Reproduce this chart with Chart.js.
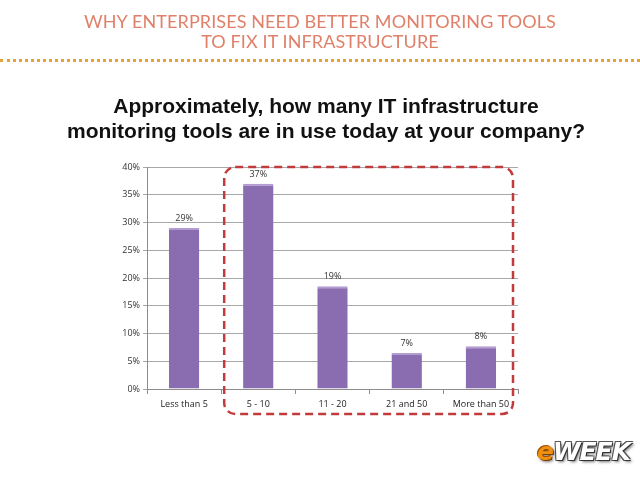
<!DOCTYPE html>
<html>
<head>
<meta charset="utf-8">
<script src="https://cdn.jsdelivr.net/npm/chart.js@4"></script>
<style>
    html, body { margin: 0; padding: 0; background: #fff; }
    #wrap { position: relative; width: 640px; height: 480px; overflow: hidden; font-family: "Open Sans", "DejaVu Sans", sans-serif; }
    #header {
        position: absolute; left: 0; top: 11px; width: 640px; text-align: center;
        font-family: Lato, "Open Sans", sans-serif; font-weight: 400; font-size: 18px; line-height: 20px;
        color: #e0806a; letter-spacing: 0.1px;
    }
    #dots { position: absolute; left: 0; top: 59px; width: 640px; border-top: 3px dotted #e8a038; }
    #title {
        position: absolute; left: 0; top: 93px; width: 652px; text-align: center;
        font-family: "Liberation Sans", Arial, sans-serif; font-weight: bold; font-size: 21px; line-height: 25px;
        color: #111;
    }
    #logo {
        position: absolute; left: 537px; top: 437px;
        font-family: "DejaVu Sans", sans-serif; font-weight: bold; font-style: italic; font-size: 25px;
        letter-spacing: -1px; color: #fff;
        text-shadow: 1px 1px 0 #333, -1px -1px 0 #555, 1px -1px 0 #555, -1px 1px 0 #555, 2px 2px 3px #777;
    }
    #logo span { color: #f09010; text-shadow: 1px 1px 0 #7a3e00, -1px -1px 0 #a05000, 2px 2px 3px #777; }
    canvas { position: absolute; left: 0; top: 0; }
</style>
</head>
<body>
<div id="wrap">
    <canvas id="toolsChart" width="640" height="480"></canvas>
    <div id="header">WHY ENTERPRISES NEED BETTER MONITORING TOOLS<br>TO FIX IT INFRASTRUCTURE</div>
    <div id="dots"></div>
    <div id="title">Approximately, how many IT infrastructure<br>monitoring tools are in use today at your company?</div>
    <div id="logo"><span>e</span>WEEK</div>
</div>
<script>
// Dados
const categories = ["Less than 5", "5 - 10", "11 - 20", "21 and 50", "More than 50"];
const shares = [29, 37, 18.5, 6.5, 7.7];
const yTicks = [0, 5, 10, 15, 20, 25, 30, 35, 40];

document.addEventListener("DOMContentLoaded", function() {
    const canvas = document.getElementById("toolsChart");
    const ctx = canvas.getContext("2d");

    // Gradiente das barras (efeito 3D)
    const barFill = function(context) {
        const chart = context.chart;
        const meta = chart.getDatasetMeta(0);
        const bar = meta.data[context.dataIndex];
        if (!bar || !bar.width) return '#8a6cb0';
        const g = chart.ctx.createLinearGradient(bar.x - bar.width / 2, 0, bar.x + bar.width / 2, 0);
        g.addColorStop(0, '#6e5490');
        g.addColorStop(0.12, '#8c6eb2');
        g.addColorStop(0.5, '#8b6cb0');
        g.addColorStop(0.88, '#8264a8');
        g.addColorStop(1, '#604882');
        return g;
    };

    // Rótulos de valor acima das barras
    const valueLabels = {
        id: 'valueLabels',
        afterDatasetsDraw(chart) {
            const c = chart.ctx;
            const meta = chart.getDatasetMeta(0);
            c.save();
            c.font = '9px "Open Sans", "DejaVu Sans", sans-serif';
            c.fillStyle = '#333';
            c.textAlign = 'center';
            c.textBaseline = 'bottom';
            meta.data.forEach(function(bar, i) {
                c.fillText(Math.round(shares[i]) + '%', bar.x, bar.y - 5);
            });
            c.restore();
        }
    };

    // Retângulo tracejado vermelho em volta das categorias 2-5
    const dashedBox = {
        id: 'dashedBox',
        afterDraw(chart) {
            const x = chart.scales.x, y = chart.scales.y;
            const step = x.getPixelForValue(1) - x.getPixelForValue(0);
            const left = x.getPixelForValue(0) + step / 2 + 3;
            const right = x.getPixelForValue(4) + step / 2 - 5;
            const top = y.getPixelForValue(40);
            const bottom = chart.chartArea.bottom + 25;
            const r = 11;
            const c = chart.ctx;
            c.save();
            c.strokeStyle = '#c23b3c';
            c.lineWidth = 2.5;
            c.setLineDash([8, 5]);
            c.beginPath();
            c.moveTo(left + r, top);
            c.lineTo(right - r, top);
            c.arcTo(right, top, right, top + r, r);
            c.lineTo(right, bottom - r);
            c.arcTo(right, bottom, right - r, bottom, r);
            c.lineTo(left + r, bottom);
            c.arcTo(left, bottom, left, bottom - r, r);
            c.lineTo(left, top + r);
            c.arcTo(left, top, left + r, top, r);
            c.stroke();
            c.restore();
        }
    };

    new Chart(ctx, {
        type: 'bar',
        data: {
            labels: categories,
            datasets: [{
                data: shares,
                backgroundColor: barFill,
                borderColor: '#b39cd2',
                borderWidth: { top: 2, left: 0, right: 0, bottom: 0 },
                barPercentage: 0.41,
                categoryPercentage: 1
            }]
        },
        options: {
            responsive: false,
            animation: false,
            layout: {
                padding: { left: 107, right: 122, top: 167, bottom: 61 }
            },
            plugins: {
                legend: { display: false },
                tooltip: { enabled: false }
            },
            scales: {
                y: {
                    min: 0,
                    max: 40,
                    afterBuildTicks: function(scale) {
                        scale.ticks = yTicks.map(function(v) { return { value: v }; });
                    },
                    afterFit: function(scale) { scale.width = 40; },
                    ticks: {
                        callback: function(v) { return v + '%'; },
                        font: { size: 9, family: '"Open Sans", "DejaVu Sans", sans-serif' },
                        color: '#333',
                        padding: 3
                    },
                    grid: {
                        color: '#a8a8a8',
                        lineWidth: 1,
                        tickLength: 4
                    },
                    border: { color: '#8c8c8c', width: 1 }
                },
                x: {
                    afterFit: function(scale) { scale.height = 30; },
                    ticks: {
                        font: { size: 9, family: '"Open Sans", "DejaVu Sans", sans-serif' },
                        color: '#222',
                        padding: 5,
                        maxRotation: 0
                    },
                    grid: {
                        drawOnChartArea: false,
                        drawTicks: true,
                        tickLength: 5,
                        color: '#8c8c8c'
                    },
                    border: { color: '#8c8c8c', width: 1 }
                }
            }
        },
        plugins: [valueLabels, dashedBox]
    });
});
</script>
</body>
</html>
